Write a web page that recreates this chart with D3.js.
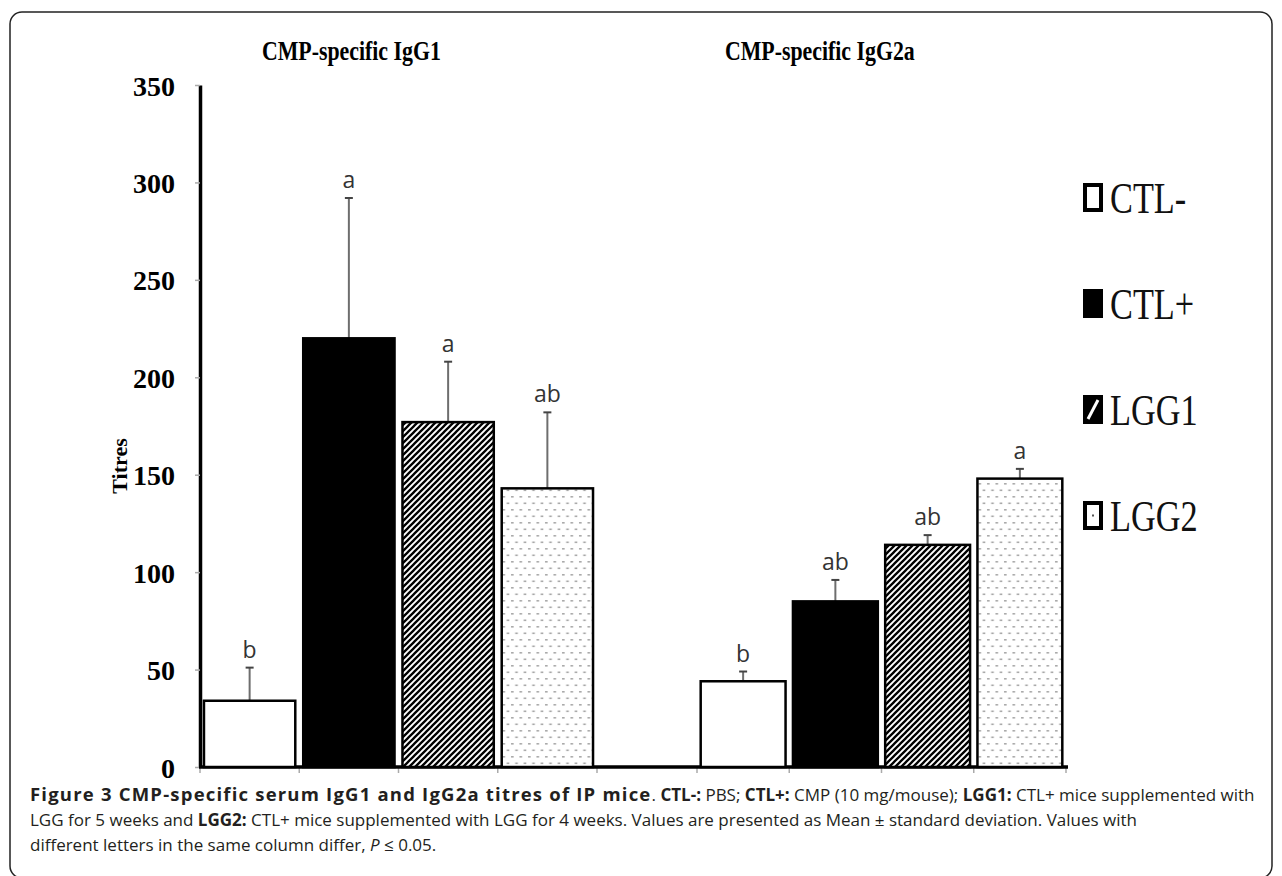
<!DOCTYPE html>
<html>
<head>
<meta charset="utf-8">
<script src="https://cdn.jsdelivr.net/npm/d3@7"></script>
<style>
  body { margin: 0; background: #fff; }
  svg { display: block; }
  .serif { font-family: "Liberation Serif", "Times New Roman", serif; }
  .caption { font-family: "Open Sans", sans-serif; font-size: 17px; fill: #231f20; }
</style>
</head>
<body>
<svg id="chart" width="1282" height="876"></svg>
<script>
// chart data
const groups = ["CMP-specific IgG1", "CMP-specific IgG2a"];
const series = ["CTL-", "CTL+", "LGG1", "LGG2"];
const meansIgG1 = [34, 220, 177, 143];
const sdIgG1 = [17, 72, 31, 39];
const lettersIgG1 = ["b", "a", "a", "ab"];
const meansIgG2a = [44, 85, 114, 148];
const sdIgG2a = [5, 11, 5, 5];
const lettersIgG2a = ["b", "ab", "ab", "a"];
const yTicks = [0, 50, 100, 150, 200, 250, 300, 350];

const groupData = [
    { name: groups[0], means: meansIgG1, sd: sdIgG1, letters: lettersIgG1 },
    { name: groups[1], means: meansIgG2a, sd: sdIgG2a, letters: lettersIgG2a }
];

const svg = d3.select("#chart");

// frame
svg.append("rect")
    .attr("x", 10).attr("y", 12)
    .attr("width", 1262).attr("height", 866)
    .attr("rx", 12)
    .attr("fill", "none")
    .attr("stroke", "#222")
    .attr("stroke-width", 1.5);

// patterns
const defs = svg.append("defs");

const hatch = defs.append("pattern")
    .attr("id", "hatch")
    .attr("patternUnits", "userSpaceOnUse")
    .attr("width", 6).attr("height", 6);
hatch.append("rect").attr("width", 6).attr("height", 6).attr("fill", "#fff");
hatch.append("path")
    .attr("d", "M-1.5,1.5 L1.5,-1.5 M0,6 L6,0 M4.5,7.5 L7.5,4.5")
    .attr("stroke", "#000")
    .attr("stroke-width", 2.3);

const dots = defs.append("pattern")
    .attr("id", "dots")
    .attr("patternUnits", "userSpaceOnUse")
    .attr("width", 8.5).attr("height", 13);
dots.append("rect").attr("width", 8.5).attr("height", 13).attr("fill", "#fff");
dots.append("rect").attr("x", 1).attr("y", 2).attr("width", 2.6).attr("height", 1.6).attr("fill", "#a8a8a8");
dots.append("rect").attr("x", 5.2).attr("y", 8.5).attr("width", 2.6).attr("height", 1.6).attr("fill", "#a8a8a8");

const fills = { "CTL-": "#fff", "CTL+": "#000", "LGG1": "url(#hatch)", "LGG2": "url(#dots)" };

// scales
const y = d3.scaleLinear().domain([0, 350]).range([767, 85]);
const groupRanges = [[200, 597], [697, 1066]];
const xInner = groupRanges.map(r => d3.scaleBand()
    .domain(series)
    .range(r)
    .paddingInner(0.08)
    .paddingOuter(0.04));

// y axis
const yAxis = svg.append("g")
    .attr("transform", "translate(200,0)")
    .call(d3.axisLeft(y).tickValues(yTicks).tickSize(5).tickSizeOuter(0).tickPadding(20));
yAxis.select(".domain").attr("stroke", "#000").attr("stroke-width", 3.5);
yAxis.selectAll(".tick line").attr("stroke", "#aaa").attr("stroke-width", 1.5);
yAxis.selectAll(".tick text")
    .attr("class", "serif")
    .attr("font-size", 28)
    .attr("font-weight", "bold")
    .attr("fill", "#000")
    .attr("dy", "0.36em");

svg.append("text")
    .attr("class", "serif")
    .attr("transform", "translate(127,466) rotate(-90)")
    .attr("text-anchor", "middle")
    .attr("font-size", 22)
    .attr("font-weight", "bold")
    .text("Titres");

// x axis ticks below the line
groupData.forEach((g, gi) => {
    const xs = xInner[gi];
    const ticks = series.map(s => xs(s) - xs.step() * xs.paddingInner() / 2);
    ticks[0] = xs.range()[0];
    ticks.push(xs.range()[1]);
    svg.selectAll(null)
        .data(ticks)
        .enter().append("line")
        .attr("x1", d => d).attr("x2", d => d)
        .attr("y1", y(0)).attr("y2", y(0) + 6)
        .attr("stroke", "#aaa")
        .attr("stroke-width", 1.5);
});

svg.append("line")
    .attr("x1", 199).attr("x2", 1068)
    .attr("y1", y(0)).attr("y2", y(0))
    .attr("stroke", "#000")
    .attr("stroke-width", 3.5);

// bars, error bars, letters
groupData.forEach((g, gi) => {
    const xs = xInner[gi];
    const rows = series.map((s, i) => ({ s, mean: g.means[i], sd: g.sd[i], letter: g.letters[i] }));
    const grp = svg.append("g");

    grp.selectAll("line.err")
        .data(rows)
        .enter().append("line")
        .attr("class", "err")
        .attr("x1", d => xs(d.s) + xs.bandwidth() / 2)
        .attr("x2", d => xs(d.s) + xs.bandwidth() / 2)
        .attr("y1", d => y(d.mean))
        .attr("y2", d => y(d.mean + d.sd))
        .attr("stroke", "#6e6e6e")
        .attr("stroke-width", 2);

    grp.selectAll("line.cap")
        .data(rows)
        .enter().append("line")
        .attr("class", "cap")
        .attr("x1", d => xs(d.s) + xs.bandwidth() / 2 - 4)
        .attr("x2", d => xs(d.s) + xs.bandwidth() / 2 + 4)
        .attr("y1", d => y(d.mean + d.sd))
        .attr("y2", d => y(d.mean + d.sd))
        .attr("stroke", "#444")
        .attr("stroke-width", 2);

    grp.selectAll("rect.bar")
        .data(rows)
        .enter().append("rect")
        .attr("class", "bar")
        .attr("x", d => xs(d.s))
        .attr("y", d => y(d.mean))
        .attr("width", xs.bandwidth())
        .attr("height", d => y(0) - y(d.mean))
        .attr("fill", d => fills[d.s])
        .attr("stroke", "#000")
        .attr("stroke-width", 2.5);

    grp.selectAll("text.letter")
        .data(rows)
        .enter().append("text")
        .attr("class", "letter")
        .attr("x", d => xs(d.s) + xs.bandwidth() / 2)
        .attr("y", d => y(d.mean + d.sd) - 10)
        .attr("text-anchor", "middle")
        .attr("font-family", "Open Sans, sans-serif")
        .attr("font-size", 23)
        .attr("fill", "#333")
        .text(d => d.letter);

    // group title
    svg.append("text")
        .attr("class", "serif")
        .attr("transform", `translate(${[262, 725][gi]},60) scale(0.78,1)`)
        .attr("font-size", 28)
        .attr("font-weight", "bold")
        .attr("fill", "#000")
        .text(g.name);
});

// legend
const ly = d3.scalePoint().domain(series).range([198, 516]);
const legend = svg.selectAll("g.legend")
    .data(series)
    .enter().append("g")
    .attr("class", "legend")
    .attr("transform", d => `translate(1083,${ly(d)})`);

legend.append("rect")
    .attr("x", 2).attr("y", -13)
    .attr("width", 16).attr("height", 25)
    .attr("fill", d => d === "CTL-" || d === "LGG2" ? "#fff" : "#000")
    .attr("stroke", "#000")
    .attr("stroke-width", 4);

legend.filter(d => d === "LGG1").append("path")
    .attr("d", "M5,9 L15,-10")
    .attr("stroke", "#fff")
    .attr("stroke-width", 3);

legend.filter(d => d === "LGG2").append("rect")
    .attr("x", 9).attr("y", -1.5)
    .attr("width", 2).attr("height", 2)
    .attr("fill", "#555");

legend.append("text")
    .attr("class", "serif")
    .attr("transform", "translate(27,15) scale(0.78,1)")
    .attr("font-size", 44)
    .attr("fill", "#111")
    .text(d => d);

// caption
const caption = svg.append("text").attr("class", "caption");
const line1 = caption.append("tspan").attr("x", 30).attr("y", 801);
line1.append("tspan").attr("font-weight", "bold").attr("font-size", 18.5).attr("letter-spacing", 1.2)
    .text("Figure 3 CMP-specific serum IgG1 and IgG2a titres of IP mice");
line1.append("tspan").text(". ");
line1.append("tspan").attr("font-weight", "bold").text("CTL-:");
line1.append("tspan").text(" PBS; ");
line1.append("tspan").attr("font-weight", "bold").text("CTL+:");
line1.append("tspan").text(" CMP (10 mg/mouse); ");
line1.append("tspan").attr("font-weight", "bold").text("LGG1:");
line1.append("tspan").text(" CTL+ mice supplemented with");

const line2 = caption.append("tspan").attr("x", 30).attr("y", 826);
line2.append("tspan").text("LGG for 5 weeks and ");
line2.append("tspan").attr("font-weight", "bold").text("LGG2:");
line2.append("tspan").text(" CTL+ mice supplemented with LGG for 4 weeks. Values are presented as Mean \u00b1 standard deviation. Values with");

const line3 = caption.append("tspan").attr("x", 30).attr("y", 851);
line3.append("tspan").text("different letters in the same column differ, ");
line3.append("tspan").attr("font-style", "italic").text("P");
line3.append("tspan").text(" \u2264 0.05.");
</script>
</body>
</html>
